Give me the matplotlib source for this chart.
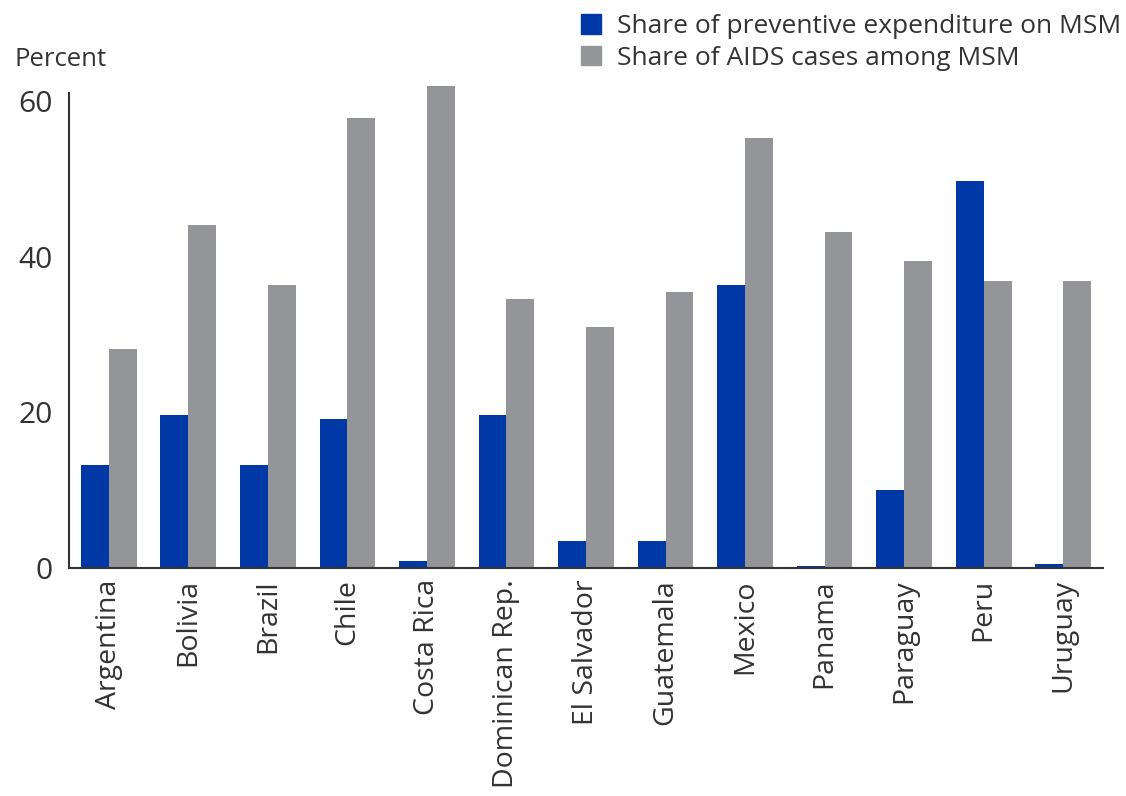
import numpy as np
import matplotlib.pyplot as plt
from matplotlib.patches import Patch

countries = ["Argentina", "Bolivia", "Brazil", "Chile", "Costa Rica", "Dominican Rep.",
             "El Salvador", "Guatemala", "Mexico", "Panama", "Paraguay", "Peru", "Uruguay"]
preventive = [13.2, 19.7, 13.2, 19.2, 0.9, 19.7, 3.5, 3.5, 36.4, 0.3, 10.0, 49.7, 0.5]
aids_cases = [28.1, 44.1, 36.3, 57.8, 61.9, 34.5, 30.9, 35.5, 55.3, 43.1, 39.5, 36.9, 36.9]
yticks = [0, 20, 40, 60]

BLUE = "#0039a6"
GRAY = "#939598"
TEXT = "#333333"

plt.rcParams["font.family"] = ["Open Sans", "DejaVu Sans"]

fig = plt.figure(figsize=(11.26, 7.96), dpi=100)
ax = fig.add_axes([0.0613, 0.2864, 0.9183, 0.5966])

x = np.arange(len(countries))
w = 0.35
ax.bar(x - w / 2, preventive, w, color=BLUE, clip_on=False)
ax.bar(x + w / 2, aids_cases, w, color=GRAY, clip_on=False)

ax.set_xlim(-0.5, len(countries) - 0.5)
ax.set_ylim(0, 61)
ax.set_yticks(yticks)
ax.set_xticks(x)
ax.set_xticklabels(countries, rotation=90, fontsize=20.5, color=TEXT)
ax.tick_params(axis="y", length=0, pad=12, labelsize=21.5, labelcolor=TEXT)
ax.tick_params(axis="x", length=0, pad=8)

for s in ["top", "right"]:
    ax.spines[s].set_visible(False)
for s in ["left", "bottom"]:
    ax.spines[s].set_color("#333333")
    ax.spines[s].set_linewidth(1.5)

fig.text(0.013, 0.925, "Percent", fontsize=18.5, color=TEXT, va="center")

handles = [Patch(color=BLUE, label="Share of preventive expenditure on MSM"),
           Patch(color=GRAY, label="Share of AIDS cases among MSM")]
fig.legend(handles=handles, loc="upper left", bbox_to_anchor=(0.495, 1.012),
           frameon=False, fontsize=19, handlelength=0.75, handleheight=0.75,
           handletextpad=0.6, labelspacing=0.25, labelcolor=TEXT)

fig.savefig("out.png", dpi=100)
